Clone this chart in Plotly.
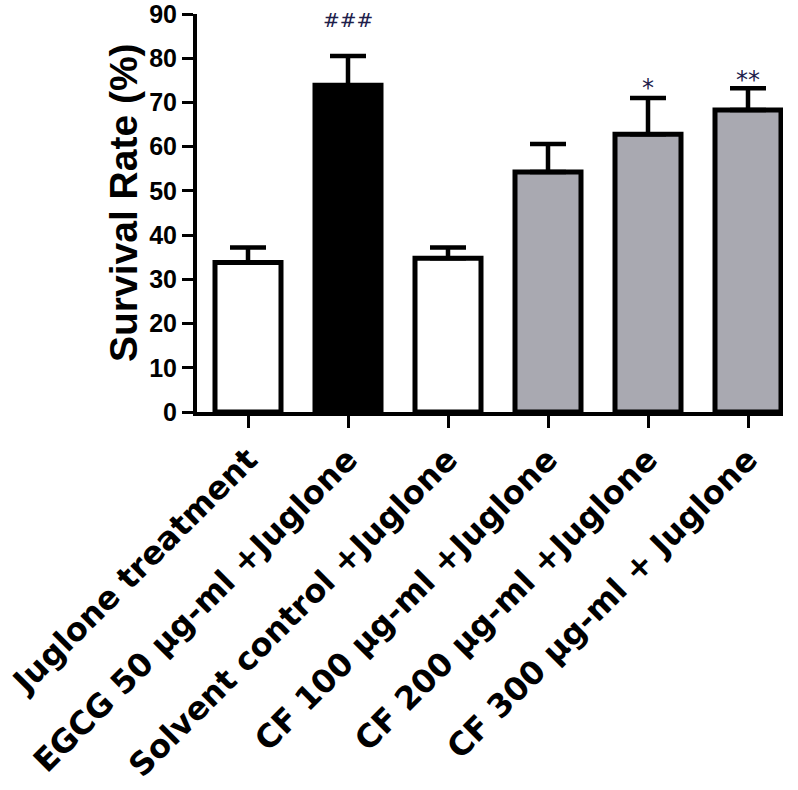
import plotly.graph_objects as go

categories = [
    "Juglone treatment",
    "EGCG 50 µg-ml +Juglone",
    "Solvent control +Juglone",
    "CF 100 µg-ml +Juglone",
    "CF 200 µg-ml +Juglone",
    "CF 300 µg-ml + Juglone",
]
survival_mean = [33.8, 73.9, 34.8, 54.3, 62.8, 68.3]
survival_err = [3.4, 6.6, 2.4, 6.3, 8.2, 4.9]
significance = ["", "###", "", "", "*", "**"]
y_ticks = [0, 10, 20, 30, 40, 50, 60, 70, 80, 90]

bar_colors = ["#ffffff", "#000000", "#ffffff", "#a9a9b1", "#a9a9b1", "#a9a9b1"]

W, H = 798, 790
L, R, T, B = 197, 15, 14, 378

fig = go.Figure()
fig.add_trace(go.Bar(
    x=categories,
    y=survival_mean,
    width=0.66,
    marker=dict(color=bar_colors, line=dict(color="#000000", width=5)),
    error_y=dict(type="data", symmetric=False, array=survival_err,
                 arrayminus=[0] * len(survival_err),
                 color="#000000", thickness=4.5, width=18),
    showlegend=False,
))

sig_style = {"###": (22, 20), "*": (-6, 24), "**": (-8, 24)}
for cat, m, e, s in zip(categories, survival_mean, survival_err, significance):
    if s:
        ys, fs = sig_style[s]
        fig.add_annotation(x=cat, y=m + e, xref="x", yref="y", text=s,
                           showarrow=False, yanchor="bottom", yshift=ys,
                           font=dict(family="DejaVu Sans", size=fs, color="#20204a"))

fig.add_annotation(xref="paper", yref="paper", x=0, y=(412 - 203) / 398,
                   xshift=-74, text="Survival Rate (%)", textangle=-90,
                   showarrow=False, xanchor="center", yanchor="middle",
                   font=dict(family="Liberation Sans", size=39, color="#000000", weight="bold"))

fig.update_layout(
    width=W, height=H,
    margin=dict(l=L, r=R, t=T, b=B, autoexpand=False),
    plot_bgcolor="#ffffff", paper_bgcolor="#ffffff",
    bargap=0.3,
)
fig.update_xaxes(
    range=[-0.51, 5.35], showgrid=False, zeroline=False,
    showline=True, linecolor="#000000", linewidth=4,
    ticks="outside", ticklen=12, tickwidth=3, tickcolor="#000000",
    tickangle=-45, automargin=False, ticklabeloverflow="allow",
    tickfont=dict(family="DejaVu Sans", size=32, color="#000000", weight="bold"),
)
fig.update_yaxes(
    range=[0, 90.02], tickvals=y_ticks, showgrid=False, zeroline=False,
    showline=True, linecolor="#000000", linewidth=4,
    ticks="outside", ticklen=11, tickwidth=3, tickcolor="#000000",
    automargin=False, ticklabeloverflow="allow",
    tickfont=dict(family="Liberation Sans", size=25, color="#000000", weight="bold"),
)

fig.write_html("out.html", config={"displayModeBar": False},
               post_script="document.body.style.margin='0px';")
